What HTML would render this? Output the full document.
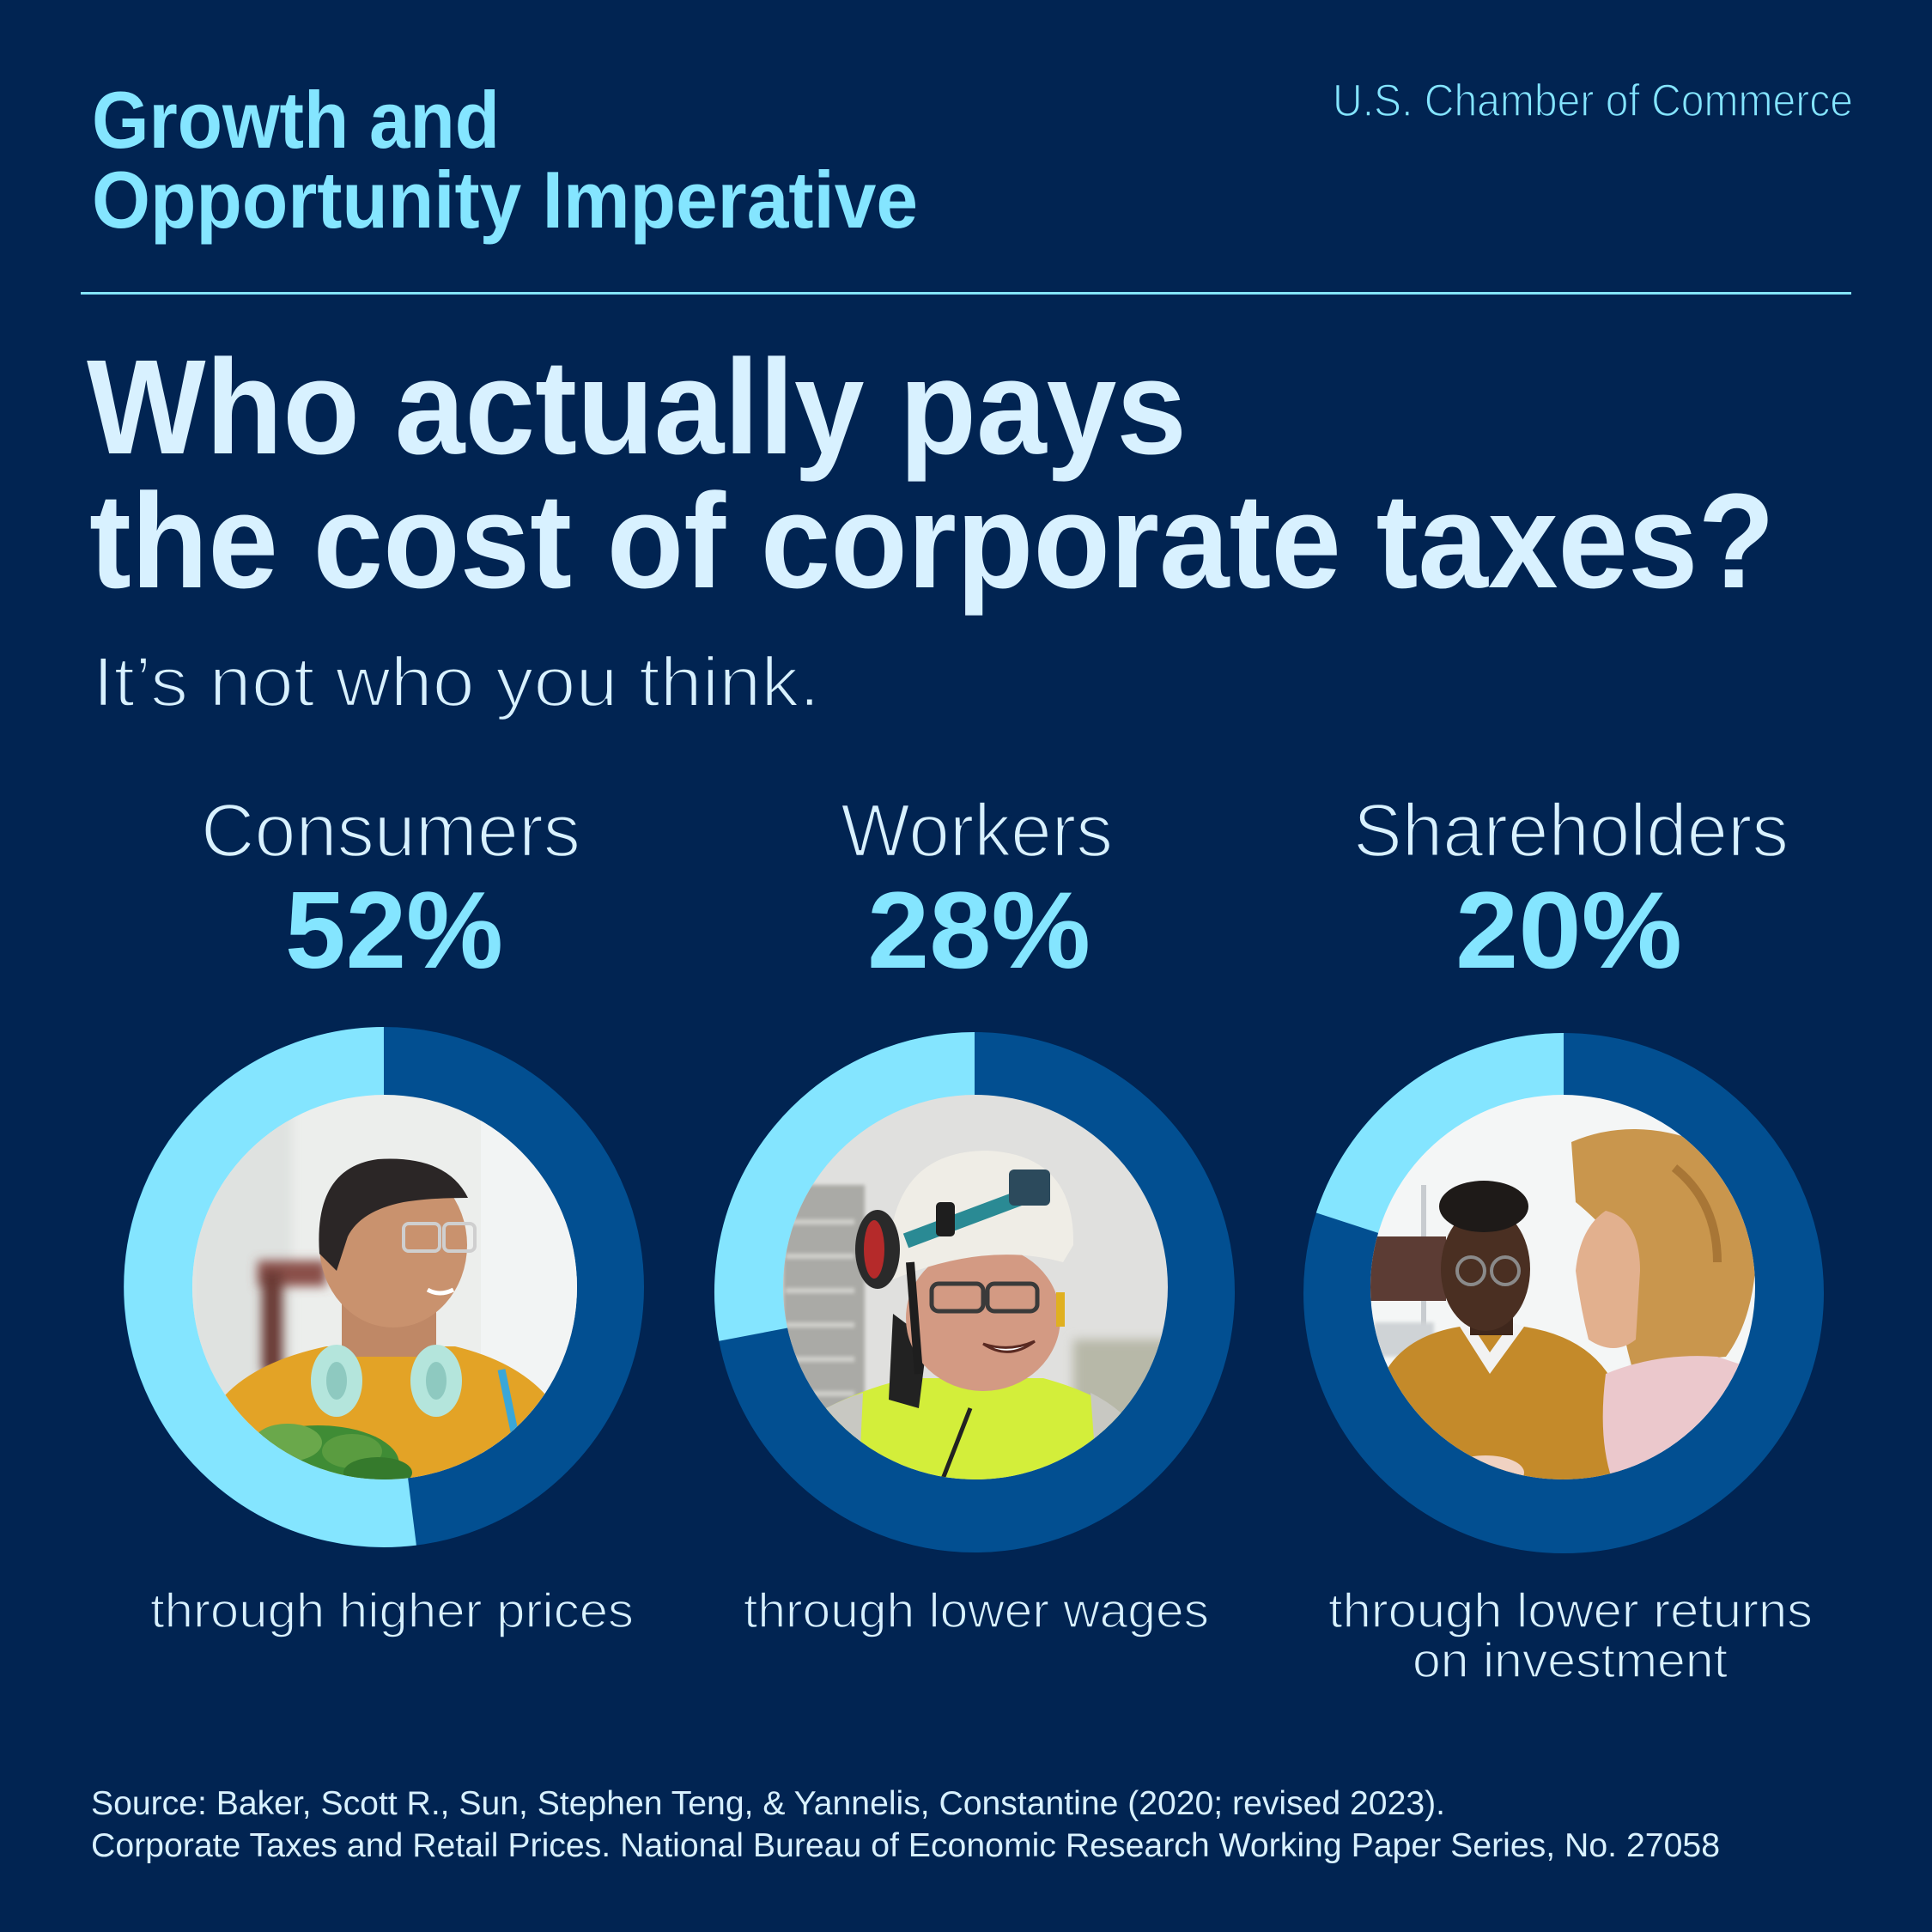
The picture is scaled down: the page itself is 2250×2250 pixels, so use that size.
<!DOCTYPE html>
<html><head><meta charset="utf-8"><style>
html,body{margin:0;padding:0;background:#012452;}
svg{display:block}
text{font-family:"Liberation Sans",Arial,sans-serif}
</style></head><body>
<svg width="2250" height="2250" viewBox="0 0 2250 2250" xmlns="http://www.w3.org/2000/svg">
<defs>
<clipPath id="c1"><circle cx="448" cy="1499" r="224"/></clipPath>
<clipPath id="c2"><circle cx="1136" cy="1499" r="224"/></clipPath>
<clipPath id="c3"><circle cx="1820" cy="1499" r="224"/></clipPath>
<filter id="bl" x="-20%" y="-20%" width="140%" height="140%"><feGaussianBlur stdDeviation="6"/></filter>
<filter id="bl2" x="-20%" y="-20%" width="140%" height="140%"><feGaussianBlur stdDeviation="2"/></filter>
</defs>
<rect width="2250" height="2250" fill="#012452"/>

<!-- header -->
<text x="107" y="172" font-size="94" font-weight="700" fill="#84e5ff" textLength="475" lengthAdjust="spacingAndGlyphs">Growth and</text>
<text x="107" y="265" font-size="94" font-weight="700" fill="#84e5ff" textLength="962" lengthAdjust="spacingAndGlyphs">Opportunity Imperative</text>
<text x="1552" y="135" font-size="53" fill="#84e5ff" stroke="#012452" stroke-width="1.5" textLength="606" lengthAdjust="spacingAndGlyphs">U.S. Chamber of Commerce</text>
<rect x="94" y="340" width="2062" height="3" fill="#84e5ff"/>

<!-- title -->
<text x="101" y="528" font-size="157" font-weight="700" fill="#d8f1ff" textLength="1281" lengthAdjust="spacingAndGlyphs">Who actually pays</text>
<text x="104" y="684" font-size="157" font-weight="700" fill="#d8f1ff" textLength="1963" lengthAdjust="spacingAndGlyphs">the cost of corporate taxes?</text>
<text x="108" y="822" font-size="82" fill="#d8f1ff" stroke="#012452" stroke-width="2.5" textLength="847" lengthAdjust="spacingAndGlyphs">It’s not who you think.</text>

<!-- categories -->
<text x="234" y="997" font-size="87" fill="#d8f1ff" stroke="#012452" stroke-width="2.5" textLength="442" lengthAdjust="spacingAndGlyphs">Consumers</text>
<text x="979" y="997" font-size="87" fill="#d8f1ff" stroke="#012452" stroke-width="2.5" textLength="317" lengthAdjust="spacingAndGlyphs">Workers</text>
<text x="1576" y="997" font-size="87" fill="#d8f1ff" stroke="#012452" stroke-width="2.5" textLength="507" lengthAdjust="spacingAndGlyphs">Shareholders</text>

<text x="332" y="1127" font-size="127" font-weight="700" fill="#84e5ff" textLength="254" lengthAdjust="spacingAndGlyphs">52%</text>
<text x="1010" y="1127" font-size="127" font-weight="700" fill="#84e5ff" textLength="260" lengthAdjust="spacingAndGlyphs">28%</text>
<text x="1695" y="1127" font-size="127" font-weight="700" fill="#84e5ff" textLength="264" lengthAdjust="spacingAndGlyphs">20%</text>

<!-- donut rings -->
<circle cx="447" cy="1499" r="258" fill="none" stroke="#024f91" stroke-width="90"/>
<path d="M447,1241 A258,258 0 1 0 479.3,1755" fill="none" stroke="#84e5ff" stroke-width="90"/>

<circle cx="1135" cy="1505" r="258" fill="none" stroke="#024f91" stroke-width="90"/>
<path d="M1135,1247 A258,258 0 0 0 881.6,1553.3" fill="none" stroke="#84e5ff" stroke-width="90"/>

<circle cx="1821" cy="1506" r="258" fill="none" stroke="#024f91" stroke-width="90"/>
<path d="M1821,1248 A258,258 0 0 0 1575.6,1426.3" fill="none" stroke="#84e5ff" stroke-width="90"/>

<!-- photo 1: consumer -->
<g clip-path="url(#c1)">
<rect x="220" y="1270" width="460" height="460" fill="#eceeec"/>
<rect x="220" y="1270" width="120" height="460" fill="#dfe2e0" filter="url(#bl)"/>
<rect x="560" y="1270" width="120" height="460" fill="#f2f4f4"/>
<g filter="url(#bl)">
<rect x="300" y="1468" width="80" height="30" fill="#8a5048"/>
<rect x="305" y="1480" width="24" height="120" fill="#6b3b35"/>
</g>
<path d="M245,1730 L262,1625 Q300,1585 380,1568 L530,1568 Q600,1585 636,1625 L660,1730 Z" fill="#e3a326"/>
<rect x="398" y="1500" width="110" height="80" fill="#bf8866"/>
<ellipse cx="458" cy="1450" rx="86" ry="96" fill="#c9926e"/>
<path d="M372,1460 Q365,1360 440,1350 Q520,1345 545,1395 Q500,1395 470,1400 Q420,1410 405,1440 L392,1480 Z" fill="#2b2626"/>
<rect x="470" y="1425" width="42" height="32" rx="6" fill="none" stroke="#cfcfcf" stroke-width="4"/>
<rect x="517" y="1425" width="36" height="32" rx="6" fill="none" stroke="#cfcfcf" stroke-width="4"/>
<path d="M498,1502 Q512,1510 528,1502" stroke="#fff" stroke-width="5" fill="none"/>
<ellipse cx="392" cy="1608" rx="30" ry="42" fill="#b4e5dc"/>
<ellipse cx="508" cy="1608" rx="30" ry="42" fill="#b4e5dc"/>
<ellipse cx="392" cy="1608" rx="12" ry="22" fill="#8ec9c0"/>
<ellipse cx="508" cy="1608" rx="12" ry="22" fill="#8ec9c0"/>
<line x1="584" y1="1595" x2="600" y2="1672" stroke="#3aa7d8" stroke-width="9"/>
<ellipse cx="370" cy="1705" rx="95" ry="45" fill="#3f8c35"/>
<ellipse cx="335" cy="1680" rx="40" ry="22" fill="#6aa84b"/>
<ellipse cx="410" cy="1690" rx="35" ry="20" fill="#5a9c40"/>
<ellipse cx="440" cy="1715" rx="40" ry="18" fill="#357a2c"/>
</g>

<!-- photo 2: worker -->
<g clip-path="url(#c2)">
<rect x="910" y="1270" width="460" height="460" fill="#e0e0de"/>
<rect x="1250" y="1560" width="120" height="170" fill="#b7b8a8" filter="url(#bl)"/>
<g filter="url(#bl2)">
<rect x="912" y="1380" width="95" height="350" fill="#aaaaa6"/>
<rect x="915" y="1420" width="80" height="6" fill="#cfcfcb"/>
<rect x="915" y="1460" width="80" height="6" fill="#cfcfcb"/>
<rect x="915" y="1500" width="80" height="6" fill="#cfcfcb"/>
<rect x="915" y="1540" width="80" height="6" fill="#cfcfcb"/>
<rect x="915" y="1580" width="80" height="6" fill="#cfcfcb"/>
<rect x="915" y="1620" width="80" height="6" fill="#cfcfcb"/>
</g>
<path d="M950,1730 L962,1640 Q1010,1615 1060,1605 L1215,1605 Q1270,1620 1305,1645 L1325,1730 Z" fill="#d3ee3a"/>
<path d="M962,1640 Q985,1628 1005,1622 L1000,1730 L955,1730 Z" fill="#c8c8c2"/>
<path d="M1270,1622 Q1290,1632 1305,1645 L1320,1730 L1278,1730 Z" fill="#c8c8c2"/>
<path d="M1040,1530 L1035,1630 L1070,1640 L1080,1560 Z" fill="#222"/>
<line x1="1130" y1="1640" x2="1095" y2="1730" stroke="#222" stroke-width="5"/>
<ellipse cx="1145" cy="1535" rx="90" ry="85" fill="#d39a83"/>
<path d="M1035,1485 Q1030,1340 1150,1340 Q1252,1345 1250,1450 L1238,1470 Q1150,1445 1040,1490 Z" fill="#efede6"/>
<path d="M1055,1445 L1215,1385" stroke="#2a8a94" stroke-width="18"/>
<rect x="1175" y="1362" width="48" height="42" rx="6" fill="#2c4a5c"/>
<rect x="1090" y="1400" width="22" height="40" rx="5" fill="#1e1e1e"/>
<ellipse cx="1022" cy="1455" rx="26" ry="46" fill="#2a2a2a"/>
<ellipse cx="1018" cy="1455" rx="12" ry="34" fill="#b52a2a"/>
<path d="M1060,1470 L1070,1600" stroke="#1e1e1e" stroke-width="10"/>
<rect x="1085" y="1495" width="60" height="32" rx="8" fill="none" stroke="#3a3a3a" stroke-width="5"/>
<rect x="1150" y="1495" width="58" height="32" rx="8" fill="none" stroke="#3a3a3a" stroke-width="5"/>
<path d="M1145,1565 Q1175,1585 1205,1562 Q1175,1575 1145,1565 Z" fill="#fff" stroke="#5a2a22" stroke-width="3"/>
<rect x="1230" y="1505" width="10" height="40" fill="#e0b020"/>
</g>

<!-- photo 3: shareholders -->
<g clip-path="url(#c3)">
<rect x="1594" y="1270" width="460" height="460" fill="#f4f6f6"/>
<rect x="1655" y="1380" width="6" height="350" fill="#c8ccd0"/>
<rect x="1594" y="1440" width="90" height="75" fill="#5c3c34"/>
<rect x="1600" y="1540" width="70" height="40" fill="#cfd3d6" filter="url(#bl2)"/>
<rect x="1900" y="1560" width="60" height="160" fill="#dde0e2" filter="url(#bl2)"/>
<path d="M1605,1730 L1615,1595 Q1640,1555 1700,1545 L1775,1545 Q1870,1560 1890,1640 L1898,1730 Z" fill="#c48a2a"/>
<path d="M1700,1545 L1735,1600 L1775,1545 L1760,1540 L1735,1575 L1712,1540 Z" fill="#f2f2f2"/>
<rect x="1712" y="1510" width="50" height="45" fill="#3f271c"/>
<ellipse cx="1730" cy="1478" rx="52" ry="72" fill="#4a2f22"/>
<ellipse cx="1728" cy="1405" rx="52" ry="30" fill="#1e1a18"/>
<circle cx="1713" cy="1480" r="16" fill="none" stroke="#8a8a8a" stroke-width="4"/>
<circle cx="1753" cy="1480" r="16" fill="none" stroke="#8a8a8a" stroke-width="4"/>
<ellipse cx="1730" cy="1715" rx="45" ry="20" fill="#f0d2c2"/>
<path d="M1830,1330 Q1900,1300 1980,1330 Q2050,1380 2045,1470 Q2040,1540 2010,1580 L1900,1590 Q1880,1520 1885,1450 Q1860,1420 1835,1400 Z" fill="#c9964d"/>
<path d="M1870,1410 Q1910,1420 1910,1480 L1905,1560 Q1880,1580 1850,1560 Q1840,1520 1835,1480 Q1840,1430 1870,1410 Z" fill="#e2b08e"/>
<path d="M1870,1600 Q1930,1575 2000,1580 L2060,1600 L2060,1730 L1880,1730 Q1860,1680 1870,1600 Z" fill="#ebc8cc"/>
<path d="M1950,1360 Q2000,1400 2000,1470" stroke="#a87636" stroke-width="10" fill="none"/>
</g>

<!-- captions -->
<text x="175" y="1895" font-size="57" fill="#d8f1ff" stroke="#012452" stroke-width="1.5" textLength="563" lengthAdjust="spacingAndGlyphs">through higher prices</text>
<text x="866" y="1895" font-size="57" fill="#d8f1ff" stroke="#012452" stroke-width="1.5" textLength="542" lengthAdjust="spacingAndGlyphs">through lower wages</text>
<text x="1547" y="1895" font-size="57" fill="#d8f1ff" stroke="#012452" stroke-width="1.5" textLength="564" lengthAdjust="spacingAndGlyphs">through lower returns</text>
<text x="1645" y="1953" font-size="57" fill="#d8f1ff" stroke="#012452" stroke-width="1.5" textLength="367" lengthAdjust="spacingAndGlyphs">on investment</text>

<!-- source -->
<text x="106" y="2113" font-size="39" fill="#d8f1ff" textLength="1577" lengthAdjust="spacingAndGlyphs">Source: Baker, Scott R., Sun, Stephen Teng, &amp; Yannelis, Constantine (2020; revised 2023).</text>
<text x="106" y="2162" font-size="39" fill="#d8f1ff" textLength="1897" lengthAdjust="spacingAndGlyphs">Corporate Taxes and Retail Prices. National Bureau of Economic Research Working Paper Series, No. 27058</text>
</svg>
</body></html>
